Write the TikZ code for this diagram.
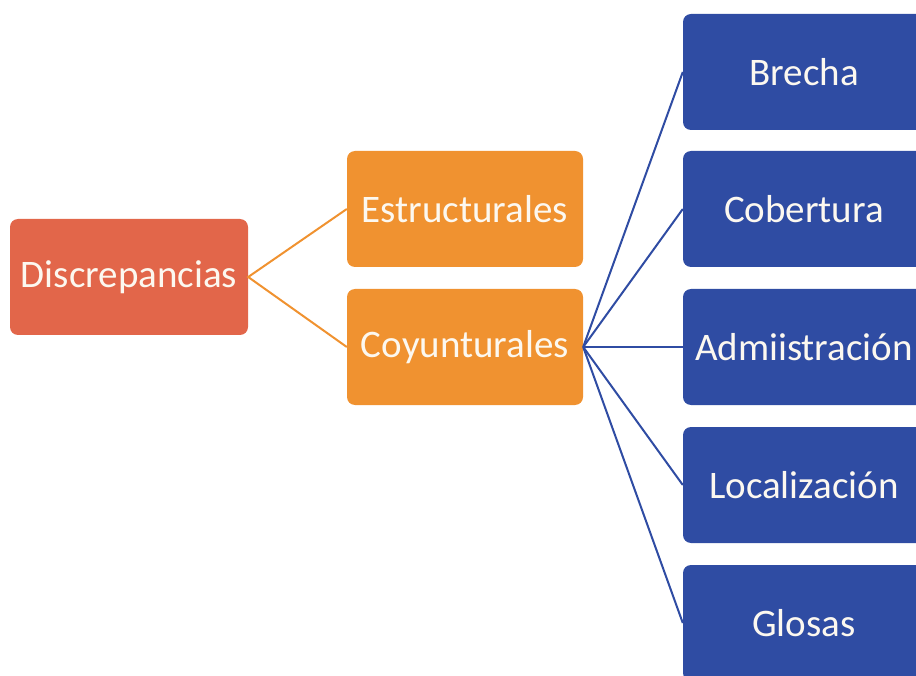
\documentclass[tikz,border=0pt]{standalone}
\usepackage{fontspec}
\setmainfont{Carlito}
\definecolor{rojizo}{RGB}{226,102,74}
\definecolor{naranja}{RGB}{240,146,48}
\definecolor{azul}{RGB}{47,76,163}
\definecolor{crema}{RGB}{252,248,240}
\begin{document}
\begin{tikzpicture}[x=1pt,y=-1pt,
  caja/.style={rounded corners=8pt, text=crema, inner sep=0pt,
    minimum height=116pt, font=\fontsize{39}{45}\selectfont},
  raiz/.style={caja, fill=rojizo, minimum width=238pt},
  rama/.style={caja, fill=naranja, minimum width=236pt},
  hoja/.style={caja, fill=azul, minimum width=242pt},
  lnaranja/.style={naranja, line width=2pt},
  lazul/.style={azul, line width=2pt}]
  \useasboundingbox (0,0) rectangle (916,676);
  \clip (0,0) rectangle (916,676);
  \node[raiz] (disc) at (129,277) {Discrepancias};
  \node[rama] (estr) at (465,209) {Estructurales};
  \node[rama] (coyu) at (465,347) {Coyunturales};
  % hojas
  \node[hoja] (brecha) at (804,72) {Brecha};
  \node[hoja] (cober) at (804,209) {Cobertura};
  \node[hoja] (admi) at (804,347) {Admiistración};
  \node[hoja] (local) at (804,485) {Localización};
  \node[hoja] (glosas) at (804,623) {Glosas};
  \draw[lnaranja] (estr.west) -- (disc.east) -- (coyu.west);
  \foreach \h in {brecha,cober,admi,local,glosas}
    \draw[lazul] (coyu.east) -- (\h.west);
\end{tikzpicture}
\end{document}
